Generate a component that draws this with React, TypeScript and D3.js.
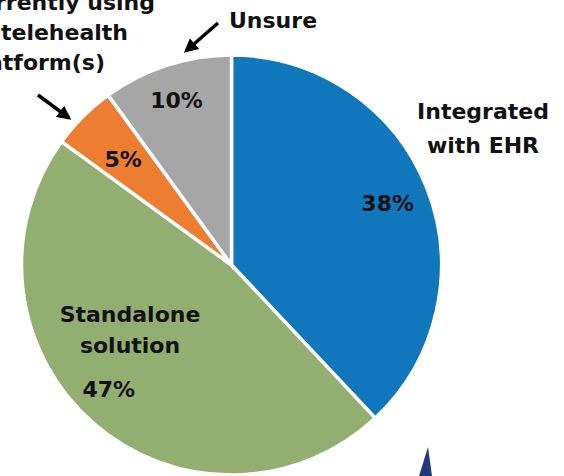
import React from "react";
import * as d3 from "d3";

const categories = ["Integrated with EHR", "Standalone solution", "Currently using telehealth platform(s)", "Unsure"];
const values = [38, 47, 5, 10];
const colors = ["#1177BC", "#93AE71", "#ED7D31", "#A6A6A6"];
const valueLabels = ["38%", "47%", "5%", "10%"];

const W = 564;
const H = 476;
const cx = 231.5;
const cy = 265;
const R = 210;
const FONT = "'DejaVu Sans', sans-serif";

// label placement inside slices: fraction along the slice angle, fraction of radius
const labelFrac = [0.5, 0.52, 0.46, 0.49];
const labelRad = [0.8, 0.83, 0.72, 0.83];

export default function App() {
  const pie = d3.pie<number>().sort(null).value((d) => d)(values);
  const arc = d3.arc<d3.PieArcDatum<number>>().innerRadius(0).outerRadius(R);

  const labelAt = (i: number) => {
    const d = pie[i];
    const ang = d.startAngle + (d.endAngle - d.startAngle) * labelFrac[i];
    return [cx + Math.sin(ang) * R * labelRad[i], cy - Math.cos(ang) * R * labelRad[i]];
  };

  const textStyle = { fontFamily: FONT, fontWeight: 700, fontSize: 22, fill: "#111" } as const;

  return (
    <svg width={W} height={H} style={{ position: "absolute", left: 0, top: 0 }}>
      <defs>
        <marker id="ah" viewBox="0 0 10 10" refX="8" refY="5" markerWidth="4" markerHeight="4" orient="auto">
          <path d="M0,0 L10,5 L0,10 z" fill="#000" />
        </marker>
      </defs>
      <rect width={W} height={H} fill="#fff" />
      <g transform={`translate(${cx},${cy})`}>
        {pie.map((d, i) => (
          <path key={categories[i]} d={arc(d) || ""} fill={colors[i]} stroke="#fff" strokeWidth={3.5} strokeLinejoin="miter" />
        ))}
      </g>
      <polygon points="428,447 419,476 432,476" fill="#213A7A" />

      {pie.map((d, i) => {
        const p = labelAt(i);
        return (
          <text key={valueLabels[i]} x={p[0]} y={p[1] + 8} textAnchor="middle" style={textStyle}>
            {valueLabels[i]}
          </text>
        );
      })}

      <text textAnchor="middle" style={textStyle}>
        <tspan x={483} y={119}>Integrated</tspan>
        <tspan x={483} y={153}>with EHR</tspan>
      </text>
      <text textAnchor="middle" style={textStyle}>
        <tspan x={130} y={322}>Standalone</tspan>
        <tspan x={130} y={353}>solution</tspan>
      </text>
      <text x={229} y={28} style={textStyle}>Unsure</text>
      <text textAnchor="end" style={textStyle}>
        <tspan x={155} y={10}>Currently using</tspan>
        <tspan x={128} y={40}>telehealth</tspan>
        <tspan x={105} y={70}>platform(s)</tspan>
      </text>

      <line x1={218} y1={23} x2={186} y2={51} stroke="#000" strokeWidth={3.5} markerEnd="url(#ah)" />
      <line x1={38} y1={95} x2={69} y2={118} stroke="#000" strokeWidth={3.5} markerEnd="url(#ah)" />
    </svg>
  );
}
